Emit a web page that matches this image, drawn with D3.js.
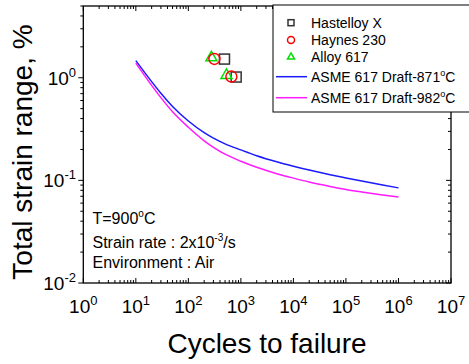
<!DOCTYPE html>
<html><head><meta charset="utf-8">
<script src="https://cdn.jsdelivr.net/npm/d3@7"></script>
<style>body{margin:0;background:#fff}svg{display:block;font-family:"Liberation Sans",Arial,sans-serif}</style>
</head><body><svg id="c" width="469" height="364"></svg>
<script>
const cycles = [10,20,30,50,100,200,300,500,1000,2000,5000,1e4,2e4,5e4,1e5,2e5,5e5,1e6];
const asme871 = [1.469,0.916,0.706,0.525,0.379,0.292,0.258,0.227,0.198,0.174,0.151,0.1374,0.1259,0.1135,0.1057,0.0986,0.0902,0.0845];
const asme982 = [1.39,0.843,0.640,0.466,0.329,0.243,0.210,0.180,0.1535,0.134,0.1156,0.1052,0.0964,0.0873,0.0815,0.0771,0.0721,0.0687];
const hastelloyN = [487,813], hastelloyE = [1.52,1.016];
const haynesN = [313,659], haynesE = [1.525,1.027];
const alloyN = [275,532], alloyE = [1.57,1.057];
const xTickExp = [0,1,2,3,4,5,6,7];
const yTickExp = [-2,-1,0];
const legendLabels = ["Hastelloy X","Haynes 230","Alloy 617","ASME 617 Draft-871","ASME 617 Draft-982"];

const svg = d3.select("#c");
const L=83.3, R=451, T=6, B=283;
const x = d3.scaleLog().domain([1,1e7]).range([L,R]);
const y = d3.scaleLog().domain([0.01,5]).range([B,T]);

function minors(lo,hi){const a=[];for(let e=lo;e<hi;e++)for(let k=2;k<=9;k++){a.push(k*Math.pow(10,e));}return a;}
const xMin = minors(0,7), yMin = minors(-2,1).filter(v=>v<=5);
const g = svg.append("g").attr("stroke","#000").attr("stroke-width",1);
xTickExp.forEach(e=>{const px=x(Math.pow(10,e));
  g.append("line").attr("x1",px).attr("x2",px).attr("y1",B).attr("y2",B-5);
  g.append("line").attr("x1",px).attr("x2",px).attr("y1",T).attr("y2",T+5);});
xMin.forEach(v=>{const px=x(v);
  g.append("line").attr("x1",px).attr("x2",px).attr("y1",B).attr("y2",B-3);
  g.append("line").attr("x1",px).attr("x2",px).attr("y1",T).attr("y2",T+3);});
yTickExp.forEach(e=>{const py=y(Math.pow(10,e));
  g.append("line").attr("x1",L).attr("x2",L-5).attr("y1",py).attr("y2",py);
  g.append("line").attr("x1",R).attr("x2",R-5).attr("y1",py).attr("y2",py);});
yMin.forEach(v=>{const py=y(v);
  g.append("line").attr("x1",L).attr("x2",L-3).attr("y1",py).attr("y2",py);
  g.append("line").attr("x1",R).attr("x2",R-3).attr("y1",py).attr("y2",py);});
svg.append("rect").attr("x",L).attr("y",T).attr("width",R-L).attr("height",B-T)
  .attr("fill","none").attr("stroke","#000").attr("stroke-width",1.3);

xTickExp.forEach(e=>{const t=svg.append("text").attr("x",x(Math.pow(10,e))).attr("y",313)
  .attr("text-anchor","middle").attr("font-size",19);
  t.append("tspan").text("10"); t.append("tspan").attr("dy",-8).attr("font-size",13).text(e);});
yTickExp.forEach(e=>{const t=svg.append("text").attr("x",76).attr("y",y(Math.pow(10,e))+7)
  .attr("text-anchor","end").attr("font-size",19);
  t.append("tspan").text("10"); t.append("tspan").attr("dy",-8).attr("font-size",13).text(e);});

svg.append("text").attr("x",267).attr("y",353).attr("text-anchor","middle").attr("font-size",28).text("Cycles to failure");
svg.append("text").attr("transform","translate(32,152) rotate(-90)").attr("text-anchor","middle").attr("font-size",28).text("Total strain range, %");

const line = d3.line().x((d,i)=>x(cycles[i])).y(d=>y(d)).curve(d3.curveMonotoneX);
svg.append("path").attr("d",line(asme871)).attr("fill","none").attr("stroke","#1a1aff").attr("stroke-width",1.5);
svg.append("path").attr("d",line(asme982)).attr("fill","none").attr("stroke","#ff1aff").attr("stroke-width",1.5);

function square(cx,cy,s){return svg.append("rect").attr("x",cx-s/2).attr("y",cy-s/2).attr("width",s).attr("height",s).attr("fill","none").attr("stroke","#333").attr("stroke-width",1.5);}
function tri(cx,cy,s){const h=s*0.866;return svg.append("path").attr("d",`M${cx},${cy-h*2/3}L${cx+s/2},${cy+h/3}L${cx-s/2},${cy+h/3}Z`).attr("fill","none").attr("stroke","#00e000").attr("stroke-width",1.5);}
function circ(cx,cy,r){return svg.append("circle").attr("cx",cx).attr("cy",cy).attr("r",r).attr("fill","none").attr("stroke","#ff0000").attr("stroke-width",1.5);}
hastelloyN.forEach((n,i)=>square(x(n),y(hastelloyE[i]),10));
alloyN.forEach((n,i)=>tri(x(n),y(alloyE[i]),11));
haynesN.forEach((n,i)=>circ(x(n),y(haynesE[i]),5.5));

const ann = svg.append("g").attr("font-size",16);
let t1 = ann.append("text").attr("x",92.5).attr("y",224);
t1.append("tspan").text("T=900"); t1.append("tspan").attr("dy",-7).attr("font-size",10).text("o"); t1.append("tspan").attr("dy",7).text("C");
let t2 = ann.append("text").attr("x",92.5).attr("y",248);
t2.append("tspan").text("Strain rate : 2x10"); t2.append("tspan").attr("dy",-7).attr("font-size",10).text("-3"); t2.append("tspan").attr("dy",7).text("/s");
ann.append("text").attr("x",92.5).attr("y",268).text("Environment : Air");

svg.append("rect").attr("x",273).attr("y",5).attr("width",210).attr("height",107).attr("fill","#fff").attr("stroke","#000").attr("stroke-width",1);
const lg = svg.append("g").attr("font-size",14);
const ly = [27.7,45,62,81.7,102.7];
square(291,ly[0]-5,6); circ(291,ly[1]-5,3.5); tri(291,ly[2]-5,7);
svg.append("line").attr("x1",276).attr("x2",307).attr("y1",ly[3]-5).attr("y2",ly[3]-5).attr("stroke","#1a1aff").attr("stroke-width",1.5);
svg.append("line").attr("x1",276).attr("x2",307).attr("y1",ly[4]-5).attr("y2",ly[4]-5).attr("stroke","#ff1aff").attr("stroke-width",1.5);
legendLabels.forEach((s,i)=>{const t=lg.append("text").attr("x",311).attr("y",ly[i]);
  t.append("tspan").text(s);
  if(i>=3){t.append("tspan").attr("dy",-6).attr("font-size",9).text("o"); t.append("tspan").attr("dy",6).text("C");}});
</script></body></html>
